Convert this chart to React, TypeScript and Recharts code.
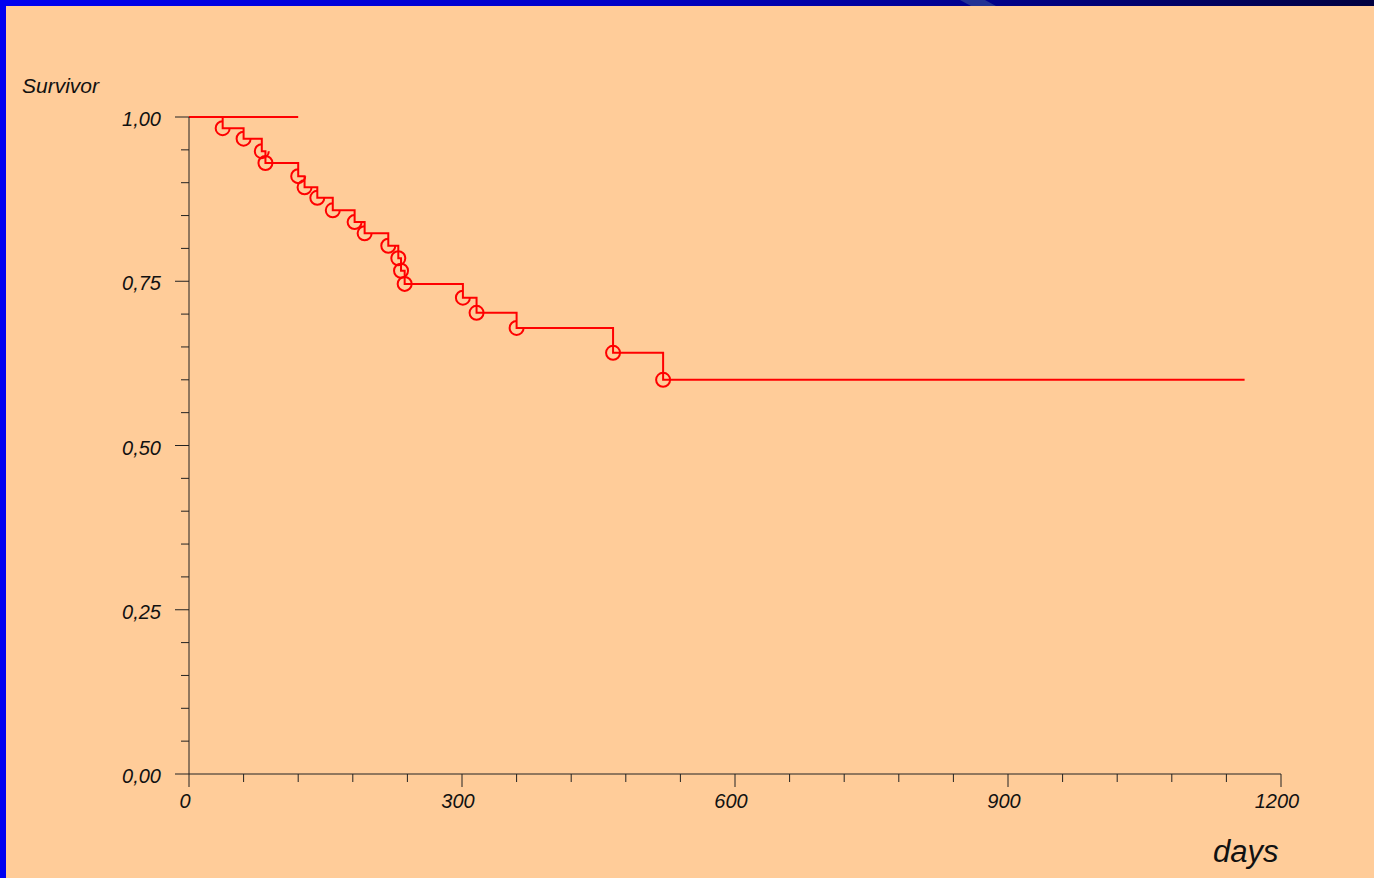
import React from 'react';
import { LineChart, Line, XAxis, YAxis } from 'recharts';

// Main group: Kaplan-Meier estimate (days, survivor function)
const days = [0, 37, 60, 80, 84, 120, 127, 141, 158, 182, 193, 219, 230, 233, 237, 301, 316, 360, 466, 521, 1160];
const survival = [1.0, 0.983, 0.967, 0.948, 0.93, 0.91, 0.893, 0.877, 0.858, 0.84, 0.823, 0.804, 0.785, 0.766, 0.746, 0.725, 0.702, 0.679, 0.641, 0.6, 0.6];
// Marks drawn as complete circles (the rest appear as open "C" marks)
const fullMarkDays = [84, 230, 233, 237, 316, 466, 521];

// Second group: no events
const group2Days = [0, 120];
const group2Survival = [1.0, 1.0];

const xTicks = [0, 60, 120, 180, 240, 300, 360, 420, 480, 540, 600, 660, 720, 780, 840, 900, 960, 1020, 1080, 1140, 1200];
const xLabelTicks = [0, 300, 600, 900, 1200];
const xLabels = ['0', '300', '600', '900', '1200'];

const yTicks = [0, 0.05, 0.1, 0.15, 0.2, 0.25, 0.3, 0.35, 0.4, 0.45, 0.5, 0.55, 0.6, 0.65, 0.7, 0.75, 0.8, 0.85, 0.9, 0.95, 1.0];
const yLabelTicks = [0, 0.25, 0.5, 0.75, 1.0];
const yLabels = ['0,00', '0,25', '0,50', '0,75', '1,00'];

const yLabelText = 'Survivor';
const xLabelText = 'days';

const mainData = days.map((t, i) => ({ t, s: survival[i] }));
const group2Data = group2Days.map((t, i) => ({ t, s: group2Survival[i] }));

const FONT = '"Liberation Sans", Arial, Helvetica, sans-serif';
const AXIS = '#222222';
const RED = '#FF0000';
const BG = '#FFCC99';

const YTick = (props: any) => {
  const { x, y, payload } = props;
  const v = payload.value;
  const idx = yLabelTicks.findIndex((m) => Math.abs(m - v) < 1e-6);
  const major = idx >= 0;
  return (
    <g>
      <line x1={x - (major ? 14 : 8)} x2={x} y1={y} y2={y} stroke={AXIS} strokeWidth={1} />
      {major && (
        <text x={x - 28} y={y + 9} textAnchor="end" fontFamily={FONT} fontStyle="italic" fontSize={20} fill="#111">
          {yLabels[idx]}
        </text>
      )}
    </g>
  );
};

const XTick = (props: any) => {
  const { x, y, payload } = props;
  const v = payload.value;
  const idx = xLabelTicks.findIndex((m) => Math.abs(m - v) < 1e-6);
  const major = idx >= 0;
  return (
    <g>
      <line x1={x} x2={x} y1={y} y2={y + (major ? 13 : 8)} stroke={AXIS} strokeWidth={1} />
      {major && (
        <text x={x - 4} y={y + 34} textAnchor="middle" fontFamily={FONT} fontStyle="italic" fontSize={20} fill="#111">
          {xLabels[idx]}
        </text>
      )}
    </g>
  );
};

const CensorDot = (props: any) => {
  const { cx, cy, index, payload } = props;
  const key = `dot-${index}`;
  if (index === 0 || index === mainData.length - 1 || cx == null || cy == null) {
    return <g key={key} />;
  }
  const r = 7;
  if (fullMarkDays.includes(payload.t)) {
    return <circle key={key} cx={cx} cy={cy} r={r} fill="none" stroke={RED} strokeWidth={2} />;
  }
  const d = `M ${cx} ${cy - r} A ${r} ${r} 0 1 0 ${cx + r} ${cy}`;
  return <path key={key} d={d} fill="none" stroke={RED} strokeWidth={2} />;
};

export default function App() {
  return (
    <div style={{ position: 'absolute', left: 0, top: 0, width: 1374, height: 878, background: BG, overflow: 'hidden' }}>
      <LineChart width={1374} height={878} margin={{ top: 117, right: 93, bottom: 74, left: 129 }}>
        <XAxis
          dataKey="t"
          type="number"
          domain={[0, 1200]}
          ticks={xTicks}
          interval={0}
          height={30}
          tickSize={0}
          tickMargin={0}
          tickLine={false}
          axisLine={{ stroke: AXIS, strokeWidth: 1 }}
          tick={<XTick />}
        />
        <YAxis
          dataKey="s"
          type="number"
          domain={[0, 1]}
          ticks={yTicks}
          interval={0}
          width={60}
          tickSize={0}
          tickMargin={0}
          tickLine={false}
          axisLine={{ stroke: AXIS, strokeWidth: 1 }}
          tick={<YTick />}
        />
        <Line
          data={group2Data}
          dataKey="s"
          type="stepAfter"
          stroke={RED}
          strokeWidth={2}
          dot={false}
          activeDot={false}
          isAnimationActive={false}
        />
        <Line
          data={mainData}
          dataKey="s"
          type="stepAfter"
          stroke={RED}
          strokeWidth={2}
          dot={CensorDot}
          activeDot={false}
          isAnimationActive={false}
        />
      </LineChart>
      <svg width={1374} height={878} style={{ position: 'absolute', left: 0, top: 0, pointerEvents: 'none' }}>
        <defs>
          <linearGradient id="topband" x1="0" y1="0" x2="1" y2="0">
            <stop offset="0" stopColor="#0000F0" />
            <stop offset="0.45" stopColor="#0000C8" />
            <stop offset="0.7" stopColor="#000090" />
            <stop offset="1" stopColor="#000040" />
          </linearGradient>
        </defs>
        <rect x={0} y={0} width={1374} height={6} fill="url(#topband)" />
        <polygon points="960,0 985,0 996,6 971,6" fill="#2A3F96" opacity={0.8} />
        <rect x={0} y={0} width={6} height={878} fill="#0000F0" />
        <text x={22} y={93} fontFamily={FONT} fontStyle="italic" fontSize={21} fill="#111">
          {yLabelText}
        </text>
        <text x={1213} y={862} fontFamily={FONT} fontStyle="italic" fontSize={31} fill="#111">
          {xLabelText}
        </text>
      </svg>
    </div>
  );
}
